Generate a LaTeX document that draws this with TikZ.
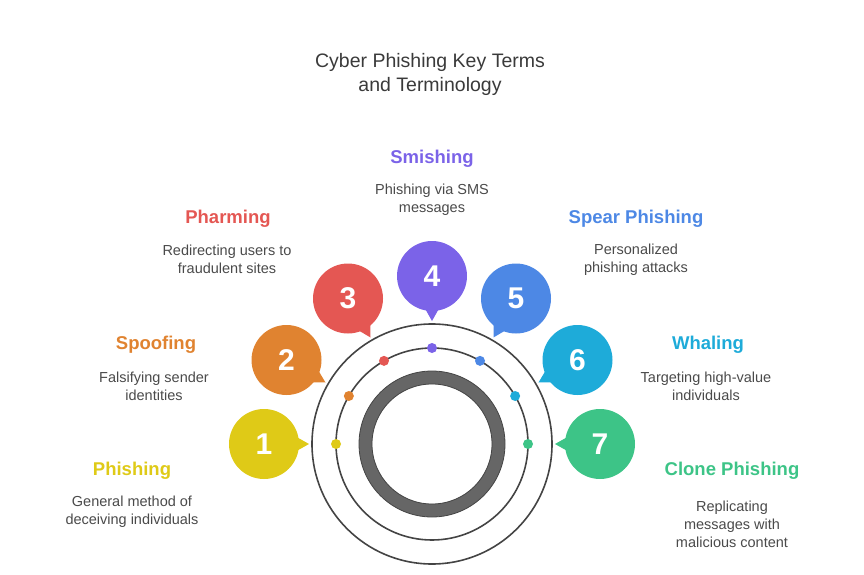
\documentclass[tikz,border=0pt]{standalone}
\usepackage{fontspec}
\setmainfont{Liberation Sans}
\usetikzlibrary{calc}
\definecolor{c1}{HTML}{DFCA17}
\definecolor{c2}{HTML}{E08330}
\definecolor{c3}{HTML}{E45753}
\definecolor{c4}{HTML}{7B63E8}
\definecolor{c5}{HTML}{4D88E5}
\definecolor{c6}{HTML}{1EABD9}
\definecolor{c7}{HTML}{3DC487}
\definecolor{ringline}{HTML}{444444}
\definecolor{ringfill}{HTML}{666666}
\definecolor{desc}{HTML}{4A4A4A}
\definecolor{titlec}{HTML}{3A3A3A}
\tikzset{
  bubble/.style={circle, minimum size=70pt, inner sep=0pt, text=white,
    font=\bfseries\fontsize{30}{30}\selectfont},
  dotnode/.style={circle, minimum size=10pt, inner sep=0pt},
  headtxt/.style={font=\bfseries\fontsize{18.5}{22}\selectfont, inner sep=0pt},
  desctxt/.style={font=\fontsize{14.5}{18}\selectfont, text=desc, align=center, inner sep=0pt},
}
\begin{document}
\begin{tikzpicture}[x=1pt,y=1pt]
\useasboundingbox (0,0) rectangle (864,574);
\coordinate (ctr) at (432,130);
\draw[line width=1.6pt, draw=ringline] (ctr) circle (120);
\draw[line width=1.6pt, draw=ringline] (ctr) circle (96);
\draw[fill=ringfill, draw=ringline, line width=0.8pt, even odd rule] (ctr) circle (73) (ctr) circle (60);
\foreach \i/\th/\col in {1/180/c1, 2/150/c2, 3/120/c3, 4/90/c4, 5/60/c5, 6/30/c6, 7/0/c7} {
  \node[bubble, fill=\col] (b\i) at ($(ctr)+(\th:168)$) {\i};
  \coordinate (t\i) at ($(ctr)+(\th:123)$);
  \fill[\col] (t\i) -- ($(b\i.center)+(\th+162:30)$) -- ($(b\i.center)+(\th+198:30)$) -- cycle;
  \node[dotnode, fill=\col] (d\i) at ($(ctr)+(\th:96)$) {};
}
\node[font=\fontsize{19.5}{24}\selectfont, text=titlec, align=center] (title) at (430,499.5) {Cyber Phishing Key Terms\\and Terminology};
\node[headtxt, text=c4] (h4) at (432,415.5) {Smishing};
\node[desctxt] (s4) at (432,374.5) {Phishing via SMS\\messages};
\node[headtxt, text=c3] (h3) at (228,355.5) {Pharming};
\node[desctxt] (s3) at (227,314.5) {Redirecting users to\\fraudulent sites};
\node[headtxt, text=c5] (h5) at (636,355.5) {Spear Phishing};
\node[desctxt] (s5) at (636,314.5) {Personalized\\phishing attacks};
\node[headtxt, text=c2] (h2) at (156,229.5) {Spoofing};
\node[desctxt] (s2) at (154,188) {Falsifying sender\\identities};
\node[headtxt, text=c6] (h6) at (708,229.5) {Whaling};
\node[desctxt] (s6) at (706,188) {Targeting high-value\\individuals};
\node[headtxt, text=c1] (h1) at (132,103.5) {Phishing};
\node[desctxt] (s1) at (132,62.5) {General method of\\deceiving individuals};
\node[headtxt, text=c7] (h7) at (732,103.5) {Clone Phishing};
\node[desctxt] (s7) at (732,49.5) {Replicating\\messages with\\malicious content};
\end{tikzpicture}
\end{document}
